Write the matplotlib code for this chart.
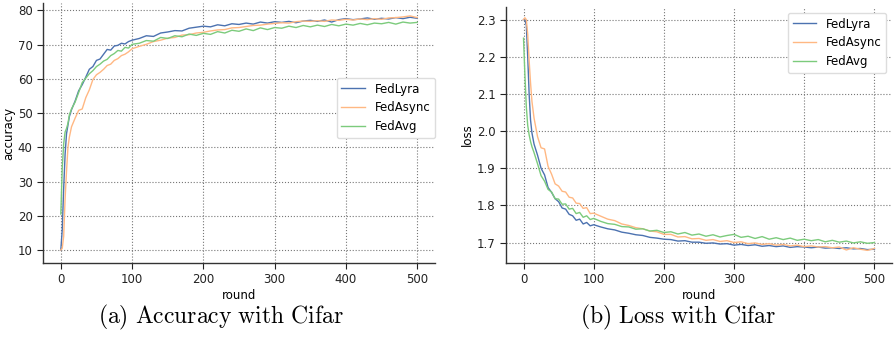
import numpy as np
import matplotlib
matplotlib.use('Agg')
import matplotlib.pyplot as plt

rounds = [0, 2, 4, 6, 8, 10, 12, 15] + list(range(20, 101, 5)) + list(range(110, 501, 10))

acc_lyra = [10.0, 16, 28, 38, 44, 46.5, 49, 51,
            53.5, 56.5, 58.3, 60.5, 62.8, 63.6, 65.4, 65.8, 67.2, 68.6, 68.4, 69.6, 69.8, 70.4, 70.2, 70.9, 71.3,
            71.8, 72.6, 72.4, 73.4, 73.7, 74.1, 74.0, 74.8, 75.1, 75.4,
            75.2, 75.8, 75.5, 76.1, 75.9, 76.3, 76.0, 76.6, 76.3, 76.7,
            76.5, 76.8, 76.4, 76.9, 77.1, 76.8, 77.2, 76.6, 77.3, 77.6,
            77.3, 77.5, 77.8, 77.4, 77.7, 77.5, 77.9, 77.6, 78.0, 77.7]
acc_async = [10.0, 10.5, 14, 25, 33, 40, 43, 46,
             48.5, 50.8, 51.2, 54.5, 56.8, 59.8, 61.2, 61.9, 62.8, 63.9, 64.3, 65.4, 65.9, 66.8, 67.2, 67.9, 68.8,
             69.5, 70.1, 70.9, 71.3, 71.9, 72.1, 72.8, 72.9, 73.4, 73.6,
             74.0, 74.3, 74.4, 74.9, 75.0, 75.3, 75.6, 75.7, 76.0, 76.2,
             76.4, 76.3, 76.7, 76.9, 76.8, 77.0, 76.8, 77.2, 77.1, 77.4,
             77.2, 77.5, 77.3, 77.6, 77.4, 77.8, 77.9, 78.1, 78.4, 77.9]
acc_avg = [20.5, 34, 41, 44.5, 45.5, 47, 49.5, 51.2,
           53.2, 56.0, 58.9, 60.2, 61.5, 62.4, 63.6, 64.3, 65.2, 65.7, 66.8, 67.4, 68.3, 68.1, 69.2, 69.0, 70.1,
           70.4, 71.2, 71.0, 72.1, 71.8, 72.6, 72.3, 73.1, 72.7, 73.3,
           73.0, 73.8, 73.4, 74.2, 73.9, 74.6, 74.1, 74.9, 74.4, 75.0,
           74.8, 75.4, 75.0, 75.6, 75.2, 75.7, 75.3, 75.9, 75.5, 76.0,
           75.7, 76.2, 75.8, 76.3, 76.1, 76.5, 76.0, 76.6, 76.3, 76.5]

loss_lyra = [2.300, 2.300, 2.285, 2.20, 2.10, 2.03, 1.995, 1.965,
             1.935, 1.900, 1.882, 1.848, 1.835, 1.818, 1.810, 1.793, 1.790, 1.776, 1.772, 1.760, 1.763, 1.750, 1.754, 1.745, 1.748,
             1.742, 1.737, 1.734, 1.728, 1.725, 1.721, 1.719, 1.714, 1.712, 1.709,
             1.708, 1.704, 1.705, 1.701, 1.701, 1.698, 1.699, 1.696, 1.697, 1.693,
             1.695, 1.692, 1.694, 1.690, 1.692, 1.689, 1.691, 1.687, 1.689, 1.688,
             1.686, 1.688, 1.685, 1.686, 1.684, 1.686, 1.683, 1.684, 1.681, 1.682]
loss_async = [2.300, 2.305, 2.300, 2.260, 2.190, 2.130, 2.080, 2.035,
              1.985, 1.955, 1.952, 1.905, 1.884, 1.858, 1.852, 1.838, 1.836, 1.822, 1.820, 1.806, 1.805, 1.792, 1.794, 1.778, 1.779,
              1.771, 1.763, 1.759, 1.750, 1.746, 1.740, 1.737, 1.731, 1.729, 1.722,
              1.722, 1.715, 1.716, 1.710, 1.711, 1.706, 1.708, 1.703, 1.705, 1.700,
              1.702, 1.697, 1.699, 1.695, 1.697, 1.693, 1.695, 1.691, 1.693, 1.689,
              1.691, 1.688, 1.689, 1.686, 1.688, 1.680, 1.686, 1.682, 1.679, 1.684]
loss_avg = [2.250, 2.150, 2.065, 2.015, 1.990, 1.972, 1.958, 1.942,
            1.912, 1.880, 1.865, 1.843, 1.836, 1.818, 1.817, 1.803, 1.804, 1.790, 1.792, 1.778, 1.781, 1.768, 1.772, 1.762, 1.765,
            1.757, 1.751, 1.749, 1.743, 1.742, 1.736, 1.737, 1.731, 1.733, 1.727,
            1.729, 1.723, 1.727, 1.720, 1.723, 1.717, 1.721, 1.715, 1.719, 1.722,
            1.714, 1.717, 1.711, 1.716, 1.709, 1.713, 1.708, 1.712, 1.706, 1.709,
            1.705, 1.708, 1.702, 1.706, 1.701, 1.704, 1.699, 1.702, 1.698, 1.700]

labels = ['FedLyra', 'FedAsync', 'FedAvg']
colors = ['#4C72B0', '#FFB883', '#7CCB7C']

plt.rcParams['mathtext.fontset'] = 'cm'
plt.rcParams['font.size'] = 8.5


def style(ax):
    for s in ['top', 'right']:
        ax.spines[s].set_visible(False)
    for s in ['left', 'bottom']:
        ax.spines[s].set_color('#333333')
        ax.spines[s].set_linewidth(1.0)
    ax.grid(True, linestyle=':', color='#777777', linewidth=0.8)
    ax.tick_params(direction='out', length=4, colors='#222222', labelsize=8.5)
    ax.set_xlim(-25, 525)


fig = plt.figure(figsize=(8.96, 3.40), dpi=100)
ax1 = fig.add_axes([0.048, 0.2265, 0.4375, 0.765])
ax2 = fig.add_axes([0.5647, 0.2265, 0.4308, 0.753])

for ys, lab, c in zip([acc_lyra, acc_async, acc_avg], labels, colors):
    ax1.plot(rounds, ys, color=c, lw=1.0, label=lab)
style(ax1)
ax1.set_ylim(6.2, 82.2)
ax1.set_yticks([10, 20, 30, 40, 50, 60, 70, 80])
ax1.set_xlabel('round', labelpad=2)
ax1.set_ylabel('accuracy', labelpad=2)
ax1.legend(loc='upper right', bbox_to_anchor=(1.0, 0.712), borderaxespad=0,
           fontsize=8.5, framealpha=1, edgecolor='#dddddd')

for ys, lab, c in zip([loss_lyra, loss_async, loss_avg], labels, colors):
    ax2.plot(rounds, ys, color=c, lw=1.0, label=lab)
style(ax2)
ax2.set_ylim(1.645, 2.334)
ax2.set_yticks([1.7, 1.8, 1.9, 2.0, 2.1, 2.2, 2.3])
ax2.set_xlabel('round', labelpad=2)
ax2.set_ylabel('loss', labelpad=2)
ax2.legend(loc='upper right', fontsize=8.5, framealpha=1, edgecolor='#dddddd')

fig.text(0.2467, 0.065, r'$\mathrm{(a)\ Accuracy\ with\ Cifar}$', ha='center', va='center', fontsize=17)
fig.text(0.757, 0.065, r'$\mathrm{(b)\ Loss\ with\ Cifar}$', ha='center', va='center', fontsize=17)

fig.savefig('out.png', dpi=100)
